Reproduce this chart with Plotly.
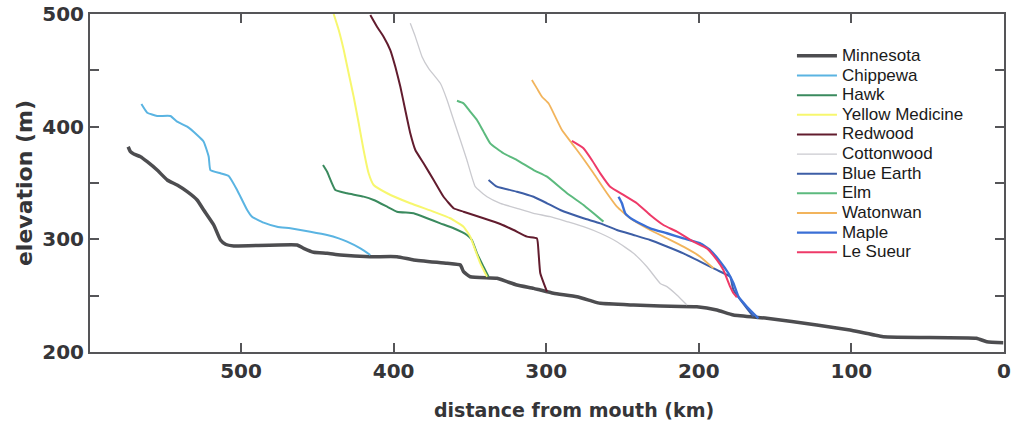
import plotly.graph_objects as go

# ---- data (distance from mouth in km, elevation in m) ----
minnesota_km = [574, 572.5, 570.3, 565.9, 561.5, 555, 548.4, 541.9, 535.3, 528.8, 524.5, 517.9, 513.5, 510.2, 504.8, 463.3, 459, 452.4, 443.6, 434.9, 415.3, 397.8, 386.9, 365, 356.3, 354.2, 349.8, 332.3, 325.7, 319.2, 308.3, 303.9, 295.2, 279.9, 269, 264.6, 242.8, 225.3, 201.3, 188.2, 177.3, 155.4, 122.7, 100.9, 79.1, 18.1, 11.3, 0.5]
minnesota_el = [382.2, 377.8, 375.7, 373.3, 368.9, 361.5, 352.7, 348.2, 342.3, 334.9, 326, 312.7, 299.4, 295.6, 294.1, 295, 292, 288.5, 287.6, 286.1, 284.6, 284.6, 281.7, 278.7, 277.2, 271.3, 266.8, 265.4, 262.4, 259.5, 256.5, 255, 252.1, 249.1, 244.7, 243.2, 241.7, 240.8, 240.2, 237.3, 232.8, 229.9, 224, 219.5, 213.6, 212.2, 209.1, 208.3]

chippewa_km = [565.3, 561.5, 555, 546.3, 541.9, 535.3, 528.8, 524.5, 521.2, 520.1, 513.5, 508.1, 502.6, 496, 492.8, 485.2, 476.4, 467.7, 454.6, 443.6, 436, 430.5, 421.8, 415.3]
chippewa_el = [420.1, 412.4, 409.5, 409.5, 404.4, 400, 392.6, 386.7, 373.3, 361.5, 358.6, 356.2, 343.8, 326, 320.1, 314.8, 311.2, 309.8, 306.8, 303.9, 300.9, 297.9, 292, 286.1]

hawk_km = [446.3, 443.6, 438.2, 430.5, 419.7, 413.1, 404.3, 397.8, 386.9, 378.1, 369.4, 360.7, 352, 348.7, 345.4, 341.1, 337.8]
hawk_el = [366, 360, 343.8, 340.9, 337.9, 334.9, 329, 324.5, 323.1, 318.7, 314.2, 309.8, 303.9, 299.4, 287.6, 275.7, 266.8]

yellow_km = [439.3, 436, 432.7, 429.5, 426.2, 422.9, 419.7, 416.4, 413.1, 404.3, 389.1, 373.8, 362.9, 354.2, 349.8, 346.5, 343.2, 338.8]
yellow_el = [500, 485.8, 468, 447.4, 426.6, 403, 379.3, 358.6, 348.2, 340.9, 332, 324.5, 318.7, 311.2, 302.4, 290.5, 278.7, 266.8]

redwood_km = [415.3, 410.9, 406.6, 402.2, 398.9, 395.6, 392.4, 389.1, 385.8, 380.4, 373.8, 367.3, 360.7, 354.2, 341.1, 330.1, 321.4, 312.6, 306.1, 305, 303.9, 299.5]
redwood_el = [499.1, 488.7, 479.9, 468, 453.2, 435.5, 414.8, 394.1, 379.3, 367.5, 352.7, 337.8, 327.6, 324.5, 318.7, 313.6, 308.3, 302.4, 300.9, 287.6, 269.9, 253.5]

cottonwood_km = [389.1, 385.8, 381.4, 377.1, 369.4, 365, 360.7, 356.3, 352, 346.5, 338.8, 330.1, 319.2, 308.3, 297.4, 286.4, 275.6, 264.6, 253.7, 242.8, 234, 225.3, 220.9, 214.4, 207.8]
cottonwood_el = [491.7, 479.9, 462.1, 451.8, 438.5, 423.7, 405.9, 388.2, 370.4, 346.7, 337.8, 332, 327.5, 323.1, 320.1, 315.7, 311.2, 305.4, 297.9, 287.6, 275.7, 260.9, 258, 250.6, 241.7]

blueearth_km = [337.8, 332.3, 319.2, 308.3, 299.5, 290.8, 275.6, 264.6, 253.7, 242.8, 231.9, 210.1, 199.1, 188.2, 179.5, 177.3, 164.2]
blueearth_el = [352.7, 346.7, 342.3, 337.8, 332, 326, 318.7, 314.2, 308.3, 303.9, 299.4, 287.6, 280.2, 272.8, 266.8, 255, 231.3]

elm_km = [358.5, 354.2, 349.8, 345.4, 341.1, 336.7, 328, 319.2, 308.3, 299.5, 286.4, 275.6, 269, 262.5]
elm_el = [423, 420.7, 413.3, 405.9, 395.6, 385.2, 376.4, 370.4, 361.5, 355.6, 340.9, 330.5, 323.1, 315.7]

watonwan_km = [309.4, 306.1, 302.8, 298.5, 294.1, 289.7, 283.2, 276.6, 269, 260.2, 253.7, 245, 231.9, 220.9, 210.1, 199.1, 190.4]
watonwan_el = [441.4, 434, 426.6, 420.7, 408.9, 397, 385.2, 373.3, 358.6, 340.9, 329, 318.7, 308.3, 300.9, 293.5, 284.6, 274.3]

maple_km = [252.6, 250.4, 248.2, 242.8, 231.9, 220.9, 210.1, 199.1, 192.6, 186, 180.6, 177.3, 174, 168.5, 161]
maple_el = [337.8, 332, 323.1, 317.2, 309.8, 305.4, 300.9, 296.5, 290.5, 280.2, 269.9, 261, 249.1, 240.2, 229.9]

lesueur_km = [283.2, 275.6, 270.1, 264.6, 258.1, 249.4, 240.6, 231.9, 223.2, 214.4, 203.5, 194.7, 188.2, 183.9, 179.5, 177.3, 175.1]
lesueur_el = [387.3, 380.8, 370.4, 358.6, 346.7, 339.4, 332, 321.6, 312.7, 306.8, 297.9, 292, 281.7, 272.8, 258, 252.1, 248.6]

x_tick_values = [500, 400, 300, 200, 100, 0]
y_tick_values = [200, 300, 400, 500]
y_minor_values = [250, 350, 450]

series = [
    ("Minnesota", minnesota_km, minnesota_el, "#4d4d50", 3.5),
    ("Chippewa", chippewa_km, chippewa_el, "#5ab4e2", 2),
    ("Hawk", hawk_km, hawk_el, "#3a8a5e", 2),
    ("Yellow Medicine", yellow_km, yellow_el, "#f7f76e", 2),
    ("Redwood", redwood_km, redwood_el, "#621c2e", 2),
    ("Cottonwood", cottonwood_km, cottonwood_el, "#cacacf", 1.3),
    ("Blue Earth", blueearth_km, blueearth_el, "#3d5ea6", 2),
    ("Elm", elm_km, elm_el, "#5cba7e", 2),
    ("Watonwan", watonwan_km, watonwan_el, "#f2b45c", 1.8),
    ("Maple", maple_km, maple_el, "#3a6fd6", 2.4),
    ("Le Sueur", lesueur_km, lesueur_el, "#ee3a68", 2),
]

fig = go.Figure()
for name, xs, ys, color, w in series:
    fig.add_trace(go.Scatter(
        x=xs, y=ys, mode="lines", name='<span style="font-size:17px">' + name + '</span>',
        line=dict(color=color, width=w, shape="spline", smoothing=0.4), hoverinfo="skip"))

tickfont = dict(family="DejaVu Sans", size=20, color="#353538", weight="bold")
axcol = "#555558"

fig.update_layout(
    width=1019, height=425,
    margin=dict(l=90, r=15, t=14, b=73, autoexpand=False),
    paper_bgcolor="white", plot_bgcolor="white",
    showlegend=True,
    legend=dict(x=0.768, y=0.920, xanchor="left", yanchor="top",
                font=dict(family="Liberation Sans", size=12.8, color="#1a1a1a"),
                bgcolor="rgba(0,0,0,0)", itemwidth=40, tracegroupgap=0),
    xaxis=dict(range=[599, 0], tickvals=x_tick_values,
               ticks="inside", ticklen=9, tickwidth=2, tickcolor=axcol,
               showline=True, linecolor=axcol, linewidth=2, mirror="ticks",
               showgrid=False, zeroline=False, tickfont=tickfont, ticklabelstandoff=0,
               automargin=False),
    yaxis=dict(range=[200, 500], tickvals=y_tick_values,
               ticks="inside", ticklen=9, tickwidth=2, tickcolor=axcol,
               minor=dict(tickvals=y_minor_values, ticks="inside", ticklen=9, tickwidth=2, tickcolor=axcol),
               showline=True, linecolor=axcol, linewidth=2, mirror="ticks",
               showgrid=False, zeroline=False, tickfont=tickfont, ticklabelstandoff=0,
               automargin=False,
               title=dict(text="elevation (m)", standoff=4,
                          font=dict(family="DejaVu Sans", size=22, color="#353538", weight="bold"))),
    annotations=[dict(text="distance from mouth (km)", xref="paper", yref="paper",
                      x=0.5295, y=-0.1716, xanchor="center", yanchor="middle", showarrow=False,
                      font=dict(family="DejaVu Sans", size=19, color="#353538", weight="bold"))],
)

fig.write_html("out.html")
